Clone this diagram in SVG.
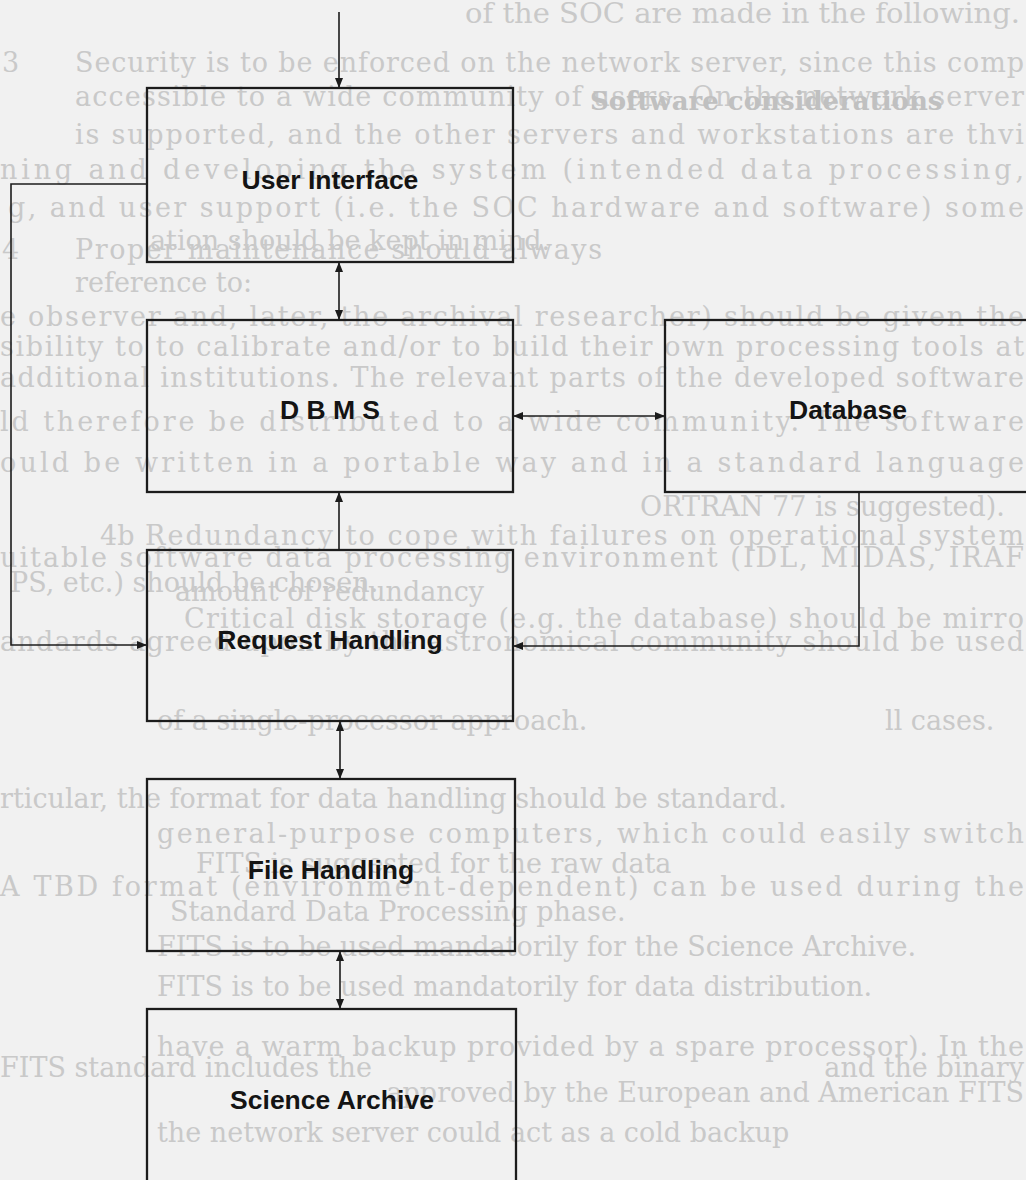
<svg xmlns="http://www.w3.org/2000/svg" width="1026" height="1180" viewBox="0 0 1026 1180">
  <style>
    .page { fill: #f1f1f1; }
    .bg { font-family: "DejaVu Serif", "Liberation Serif", serif; font-size: 27px; fill: #c9c9c9; }
    .bgh { font-family: "DejaVu Serif", "Liberation Serif", serif; font-size: 26px; font-weight: bold; fill: #c0c0c0; }
    .box { fill: none; stroke: #1c1c1c; stroke-width: 2.3; }
    .link { fill: none; stroke: #1c1c1c; stroke-width: 1.6; }
    .label { font-family: "Liberation Sans", Arial, sans-serif; font-size: 26.5px; font-weight: bold; fill: #141414; text-anchor: middle; }
  </style>
  <defs>
    <marker id="ah" viewBox="0 0 10 8" refX="10" refY="4" markerWidth="10" markerHeight="8" markerUnits="userSpaceOnUse" orient="auto-start-reverse">
      <path d="M0,0 L10,4 L0,8 z" fill="#1c1c1c"/>
    </marker>
  </defs>

  <rect class="page" x="0" y="0" width="1026" height="1180"/>

  <!-- faint printed text of the page behind the figure -->
  <g id="page-text">
    <text class="bg" x="465" y="23" textLength="555" lengthAdjust="spacingAndGlyphs">of the SOC are made in the following.</text>
    <text class="bg" x="2" y="72">3</text>
    <text class="bg" x="75" y="72" textLength="949" lengthAdjust="spacing">Security is to be enforced on the network server, since this comp</text>
    <text class="bg" x="75" y="106" textLength="949" lengthAdjust="spacing">accessible to a wide community of users. On the network server</text>
    <text class="bgh" x="590" y="110">Software considerations</text>
    <text class="bg" x="75" y="144" textLength="949" lengthAdjust="spacing">is supported, and the other servers and workstations are thvi</text>
    <text class="bg" x="0" y="179" textLength="1024" lengthAdjust="spacing">ning and developing the system (intended data processing,</text>
    <text class="bg" x="8" y="217" textLength="1016" lengthAdjust="spacing">g, and user support (i.e. the SOC hardware and software) some</text>
    <text class="bg" x="2" y="259">4</text>
    <text class="bg" x="75" y="259" textLength="527" lengthAdjust="spacing">Proper maintenance should always</text>
    <text class="bg" x="150" y="250">ation should be kept in mind.</text>
    <text class="bg" x="75" y="292">reference to:</text>
    <text class="bg" x="0" y="326" textLength="1024" lengthAdjust="spacing">e observer and, later, the archival researcher) should be given the</text>
    <text class="bg" x="0" y="356" textLength="1024" lengthAdjust="spacing">sibility to to calibrate and/or to build their own processing tools at</text>
    <text class="bg" x="0" y="387" textLength="1024" lengthAdjust="spacing">additional institutions. The relevant parts of the developed software</text>
    <text class="bg" x="0" y="431" textLength="1024" lengthAdjust="spacing">ld therefore be distributed to a wide community. The software</text>
    <text class="bg" x="0" y="472" textLength="1024" lengthAdjust="spacing">ould be written in a portable way and in a standard language</text>
    <text class="bg" x="640" y="516">ORTRAN 77 is suggested).</text>
    <text class="bg" x="100" y="545">4b</text>
    <text class="bg" x="145" y="545" textLength="879" lengthAdjust="spacing">Redundancy to cope with failures on operational system</text>
    <text class="bg" x="0" y="567" textLength="1024" lengthAdjust="spacing">uitable software data processing environment (IDL, MIDAS, IRAF</text>
    <text class="bg" x="10" y="592">PS, etc.) should be chosen.</text>
    <text class="bg" x="175" y="601">amount of redundancy</text>
    <text class="bg" x="184" y="628" textLength="840" lengthAdjust="spacing">Critical disk storage (e.g. the database) should be mirro</text>
    <text class="bg" x="0" y="651" textLength="1024" lengthAdjust="spacing">andards agreed upon by the astronomical community should be used</text>
    <text class="bg" x="157" y="730">of a single-processor approach.</text>
    <text class="bg" x="885" y="730">ll cases.</text>
    <text class="bg" x="0" y="808">rticular, the format for data handling should be standard.</text>
    <text class="bg" x="157" y="843" textLength="867" lengthAdjust="spacing">general-purpose computers, which could easily switch</text>
    <text class="bg" x="196" y="873">FITS is suggested for the raw data</text>
    <text class="bg" x="0" y="896" textLength="1024" lengthAdjust="spacing">A TBD format (environment-dependent) can be used during the</text>
    <text class="bg" x="170" y="921">Standard Data Processing phase.</text>
    <text class="bg" x="157" y="956">FITS is to be used mandatorily for the Science Archive.</text>
    <text class="bg" x="157" y="996">FITS is to be used mandatorily for data distribution.</text>
    <text class="bg" x="157" y="1056" textLength="867" lengthAdjust="spacing">have a warm backup provided by a spare processor). In the</text>
    <text class="bg" x="0" y="1077">FITS standard includes the</text>
    <text class="bg" x="1024" y="1077" text-anchor="end">and the binary</text>
    <text class="bg" x="1024" y="1102" text-anchor="end">approved by the European and American FITS</text>
    <text class="bg" x="157" y="1142">the network server could act as a cold backup</text>
  </g>

  <!-- connectors between the blocks -->
  <g id="connectors">
    <line class="link" x1="339" y1="12" x2="339" y2="88" marker-end="url(#ah)"/>
    <line class="link" x1="339" y1="262" x2="339" y2="320" marker-start="url(#ah)" marker-end="url(#ah)"/>
    <line class="link" x1="513" y1="416" x2="665" y2="416" marker-start="url(#ah)" marker-end="url(#ah)"/>
    <line class="link" x1="339" y1="550" x2="339" y2="492" marker-end="url(#ah)"/>
    <polyline class="link" points="147,184 11,184 11,645 147,645" marker-end="url(#ah)"/>
    <polyline class="link" points="859,492 859,646 513,646" marker-end="url(#ah)"/>
    <line class="link" x1="340" y1="721" x2="340" y2="779" marker-start="url(#ah)" marker-end="url(#ah)"/>
    <line class="link" x1="340" y1="951" x2="340" y2="1009" marker-start="url(#ah)" marker-end="url(#ah)"/>
  </g>

  <g id="user-interface">
    <rect class="box" x="147" y="88" width="366" height="174"/>
    <text class="label" x="330" y="189">User Interface</text>
  </g>
  <g id="dbms">
    <rect class="box" x="147" y="320" width="366" height="172"/>
    <text class="label" x="330" y="419">D B M S</text>
  </g>
  <g id="database">
    <rect class="box" x="665" y="320" width="380" height="172"/>
    <text class="label" x="848" y="419">Database</text>
  </g>
  <g id="request-handling">
    <rect class="box" x="147" y="550" width="366" height="171"/>
    <text class="label" x="330" y="649">Request Handling</text>
  </g>
  <g id="file-handling">
    <rect class="box" x="147" y="779" width="368" height="172"/>
    <text class="label" x="331" y="879">File Handling</text>
  </g>
  <g id="science-archive">
    <rect class="box" x="147" y="1009" width="369" height="200"/>
    <text class="label" x="332" y="1109">Science Archive</text>
  </g>
</svg>
